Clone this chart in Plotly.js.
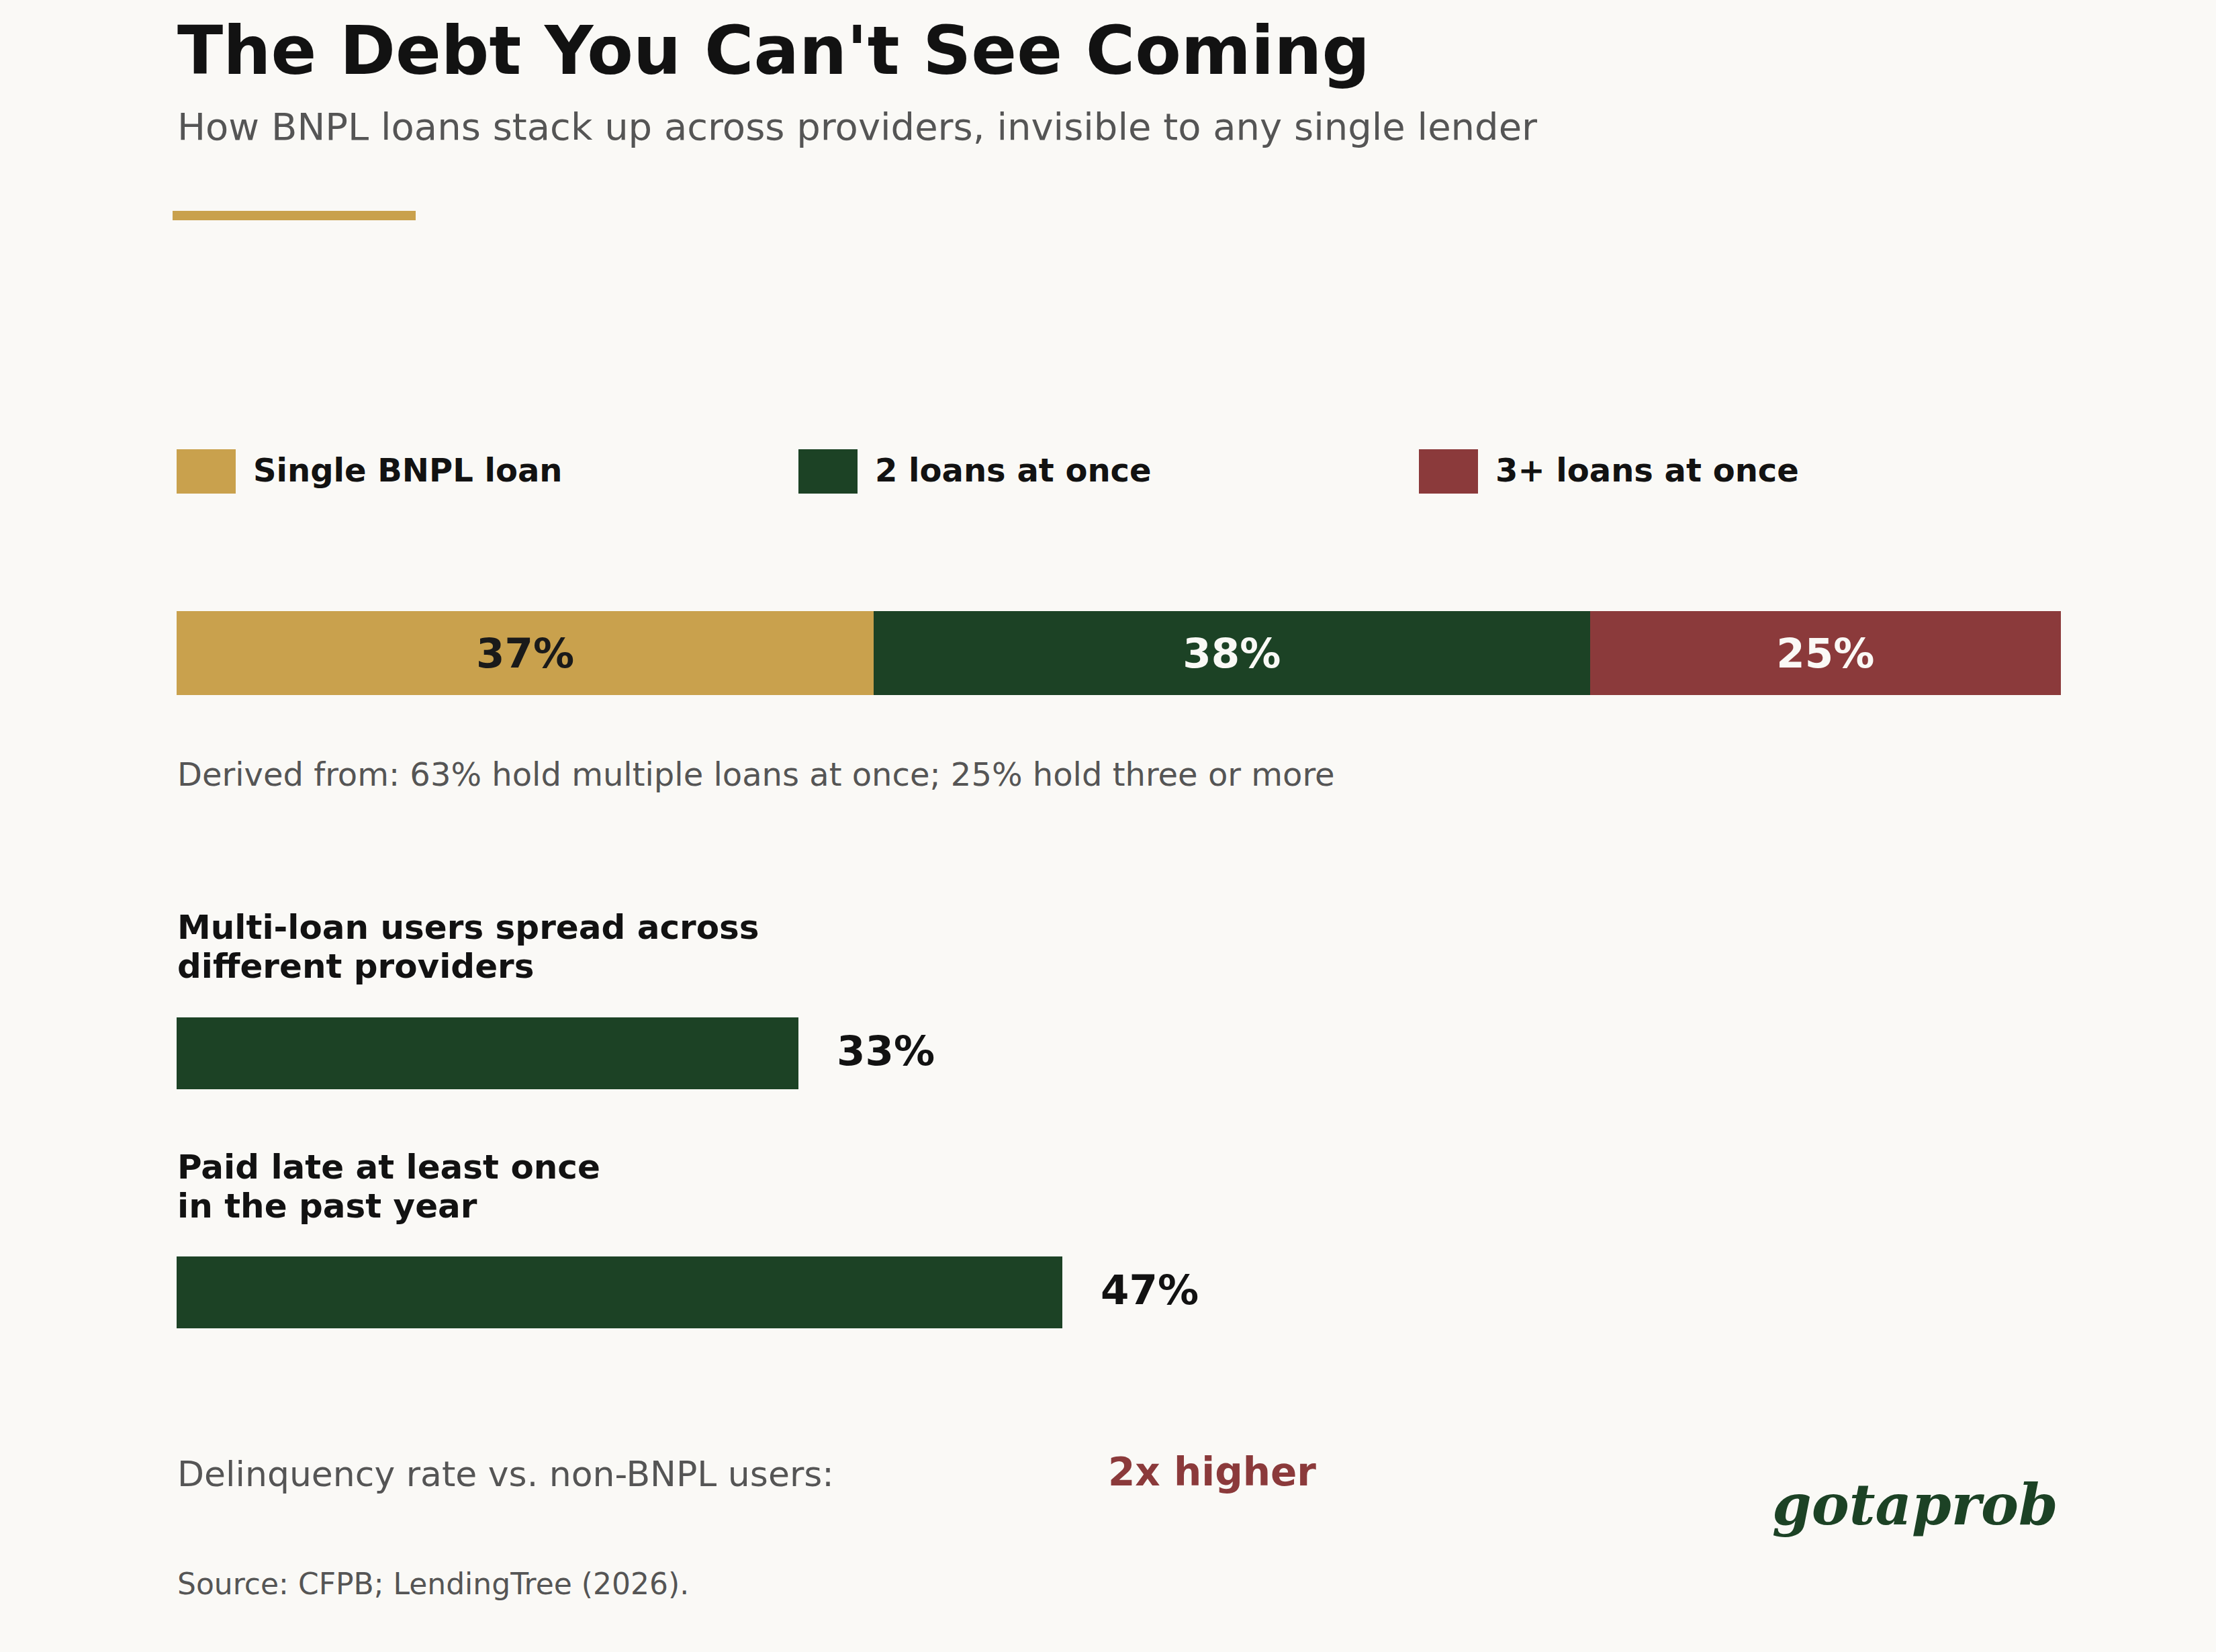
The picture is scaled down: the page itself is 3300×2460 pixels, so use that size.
<!DOCTYPE html>
<html>
<head>
<meta charset="utf-8">
<script src="https://cdn.plot.ly/plotly-3.0.1.min.js"></script>
<style>
  html, body { margin: 0; padding: 0; background: #FAF9F6; }
  #chart { width: 3300px; height: 2460px; }
</style>
</head>
<body>
<div id="chart"></div>
<script>
// Loan-count mix among BNPL users (%)
const mixLabels = ['Single BNPL loan', '2 loans at once', '3+ loans at once'];
const mixValues = [37, 38, 25];
const mixColors = ['#C9A14D', '#1C4225', '#8B3A3B'];
const mixTextColors = ['#1A1A1A', '#FAF9F6', '#FAF9F6'];

// Behaviour stats (%)
const statLabels = [
    ['Multi-loan users spread across', 'different providers'],
    ['Paid late at least once', 'in the past year']
];
const statValues = [33, 47];

const W = 3300, H = 2460;
const px = x => x / W;
const py = y => 1 - y / H;

const SANS = 'DejaVu Sans';
const INK = '#121212';
const GREY = '#555555';
const GREEN = '#1C4225';
const RED = '#8B3A3B';

// stacked share bar, one trace per segment
const mixTraces = mixValues.map((v, i) => ({
    type: 'bar',
    orientation: 'h',
    x: [v],
    y: [0],
    width: 1,
    name: mixLabels[i],
    marker: { color: mixColors[i], line: { width: 0 } },
    texttemplate: '%{x}%',
    textposition: 'inside',
    insidetextanchor: 'middle',
    textfont: { family: SANS, size: 61, weight: 'bold', color: mixTextColors[i] },
    hoverinfo: 'skip',
    xaxis: 'x',
    yaxis: 'y'
}));

const statTrace = {
    type: 'bar',
    orientation: 'h',
    x: statValues,
    y: statValues.map((_, i) => i),
    width: 0.3,
    marker: { color: GREEN, line: { width: 0 } },
    hoverinfo: 'skip',
    xaxis: 'x2',
    yaxis: 'y2'
};

const annotations = [];
const shapes = [];

function note(text, x, y, size, opts) {
    annotations.push(Object.assign({
        text: text, x: px(x), y: py(y), xref: 'paper', yref: 'paper',
        xanchor: 'left', yanchor: 'middle', showarrow: false, borderpad: 0,
        font: { family: SANS, size: size, color: INK }
    }, opts || {}));
}

// header
note('The Debt You Can\'t See Coming', 263, 75, 100, { font: { family: SANS, size: 100, weight: 'bold', color: INK } });
note('How BNPL loans stack up across providers, invisible to any single lender', 263, 189, 56, { font: { family: SANS, size: 56, color: GREY } });
shapes.push({ type: 'rect', xref: 'paper', yref: 'paper', x0: px(257), x1: px(619), y0: py(328), y1: py(314),
    fillcolor: '#C9A14D', line: { width: 0 } });

// legend row
const legendX = [263, 1189, 2113];
mixLabels.forEach((lab, i) => {
    shapes.push({ type: 'rect', xref: 'paper', yref: 'paper',
        x0: px(legendX[i]), x1: px(legendX[i] + 88), y0: py(735), y1: py(669),
        fillcolor: mixColors[i], line: { width: 0 } });
    note(lab, legendX[i] + 113, 700, 48, { font: { family: SANS, size: 48, weight: 'bold', color: INK } });
});

note('Derived from: 63% hold multiple loans at once; 25% hold three or more', 263, 1153, 48, { font: { family: SANS, size: 48, color: GREY } });

// stat labels and values
statValues.forEach((v, i) => {
    statLabels[i].forEach((line, k) => {
        annotations.push({
            text: line, x: 0, y: i, xref: 'x2', yref: 'y2',
            xanchor: 'left', yanchor: 'middle', yshift: k === 0 ? 187 : 129,
            showarrow: false, borderpad: 0,
            font: { family: SANS, size: 50, weight: 'bold', color: INK }
        });
    });
    annotations.push({
        text: v + '%', x: v, y: i, xref: 'x2', yref: 'y2',
        xanchor: 'left', yanchor: 'middle', xshift: 56, yshift: 4,
        showarrow: false, borderpad: 0,
        font: { family: SANS, size: 61, weight: 'bold', color: INK }
    });
});

// footer
note('Delinquency rate vs. non-BNPL users:', 263, 2195, 52, { font: { family: SANS, size: 52, color: GREY } });
note('2x higher', 1649, 2192, 58, { font: { family: SANS, size: 58, weight: 'bold', color: RED } });
note('gotaprob', 3066, 2240, 84, { xanchor: 'right', font: { family: 'DejaVu Serif', size: 84, weight: 'bold', style: 'italic', color: GREEN } });
note('Source: CFPB; LendingTree (2026).', 263, 2358, 44, { font: { family: SANS, size: 44, color: GREY } });

const hidden = { visible: false, fixedrange: true, showgrid: false, zeroline: false };

const layout = {
    width: W,
    height: H,
    paper_bgcolor: '#FAF9F6',
    plot_bgcolor: 'rgba(0,0,0,0)',
    margin: { t: 0, b: 0, l: 0, r: 0 },
    showlegend: false,
    barmode: 'stack',
    xaxis: { ...hidden, domain: [px(263), px(3069)], range: [0, 100], anchor: 'y' },
    yaxis: { ...hidden, domain: [py(1035), py(910)], range: [-0.5, 0.5], anchor: 'x' },
    xaxis2: { ...hidden, domain: [px(263), px(3069)], range: [0, 100], anchor: 'y2' },
    yaxis2: { ...hidden, domain: [py(1978), py(1515)], range: [1.15, -0.15], anchor: 'x2' },
    annotations: annotations,
    shapes: shapes
};

Plotly.newPlot('chart', [...mixTraces, statTrace], layout, { displayModeBar: false, staticPlot: true });
</script>
</body>
</html>
